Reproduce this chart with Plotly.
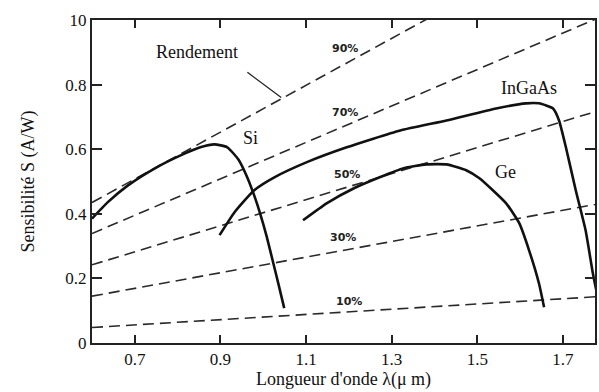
import plotly.graph_objects as go

# Efficiency (rendement) lines: read endpoints at lambda = 0.6 and 1.8 µm
eff_labels = ["10%", "30%", "50%", "70%", "90%"]
eff_x = [0.6, 1.8]
eff_10 = [0.048, 0.145]
eff_30 = [0.145, 0.435]
eff_50 = [0.242, 0.726]
eff_70 = [0.339, 1.016]
eff_90 = [0.435, 1.306]
eff_label_x = [1.20, 1.187, 1.195, 1.19, 1.19]
eff_label_y = [0.13, 0.327, 0.522, 0.714, 0.913]

# Detector curves
si_x = [0.600, 0.637, 0.684, 0.747, 0.807, 0.853, 0.886, 0.916, 0.942, 0.962, 0.978, 0.993, 1.008, 1.023, 1.036, 1.049]
si_y = [0.385, 0.436, 0.488, 0.541, 0.581, 0.606, 0.615, 0.606, 0.568, 0.515, 0.46, 0.40, 0.33, 0.25, 0.18, 0.108]

ingaas_x = [0.898, 0.933, 0.979, 1.026, 1.102, 1.195, 1.32, 1.428, 1.544, 1.614, 1.644, 1.677, 1.691, 1.707, 1.73, 1.753, 1.77, 1.78]
ingaas_y = [0.334, 0.405, 0.473, 0.513, 0.56, 0.606, 0.658, 0.689, 0.726, 0.742, 0.742, 0.726, 0.689, 0.606, 0.473, 0.349, 0.216, 0.15]

ge_x = [1.093, 1.149, 1.212, 1.272, 1.328, 1.381, 1.428, 1.474, 1.505, 1.567, 1.598, 1.621, 1.644, 1.656]
ge_y = [0.38, 0.433, 0.479, 0.513, 0.541, 0.553, 0.553, 0.535, 0.51, 0.433, 0.371, 0.287, 0.185, 0.111]

x_ticks = [0.7, 0.9, 1.1, 1.3, 1.5, 1.7]
x_ticktext = ["0.7", "0.9", "1.1", "1.3", "1.5", "1.7"]
y_ticks = [0, 0.2, 0.4, 0.6, 0.8, 1.0]
y_ticktext = ["0", "0.2", "0.4", "0.6", "0.8", "10"]

serif = "Liberation Serif"

fig = go.Figure()
for ys in [eff_10, eff_30, eff_50, eff_70, eff_90]:
    fig.add_trace(go.Scatter(x=eff_x, y=ys, mode="lines",
                             line=dict(color="#2a2a2a", width=1.6, dash="11px,6px"),
                             showlegend=False, hoverinfo="skip"))
for xs, ys in [(si_x, si_y), (ingaas_x, ingaas_y), (ge_x, ge_y)]:
    fig.add_trace(go.Scatter(x=xs, y=ys, mode="lines",
                             line=dict(color="#111111", width=2.6, shape="spline", smoothing=0.5),
                             showlegend=False, hoverinfo="skip"))

# efficiency labels
for t, lx, ly in zip(eff_labels, eff_label_x, eff_label_y):
    fig.add_annotation(x=lx, y=ly, text="<b>" + t + "</b>", showarrow=False,
                       font=dict(family="DejaVu Sans", size=11, color="#222"),
                       xanchor="center", yanchor="middle")

curve_labels = ["Si", "InGaAs", "Ge", "Rendement"]
curve_label_x = [0.97, 1.621, 1.565, 0.846]
curve_label_y = [0.634, 0.79, 0.529, 0.90]
for t, lx, ly in zip(curve_labels, curve_label_x, curve_label_y):
    fig.add_annotation(x=lx, y=ly, text=t, showarrow=False,
                       font=dict(family=serif, size=18, color="#111"),
                       xanchor="center", yanchor="middle")

# leader line from "Rendement" to the 90% line
fig.add_shape(type="line", x0=0.963, y0=0.838, x1=1.042, y1=0.760,
              line=dict(color="#222", width=1.3))

fig.update_layout(
    width=599, height=392,
    margin=dict(l=92, r=2, t=20, b=49),
    paper_bgcolor="white", plot_bgcolor="white",
    font=dict(family=serif, color="#111"),
)
fig.update_xaxes(range=[0.6, 1.775], tickvals=x_ticks, ticktext=x_ticktext,
                 ticks="inside", ticklen=8, tickwidth=1.5, tickcolor="#222",
                 showline=True, linecolor="#222", linewidth=2, mirror="ticks",
                 showgrid=False, zeroline=False,
                 tickfont=dict(family=serif, size=17, color="#111"),
                 title=dict(text="Longueur d'onde λ(μ m)", font=dict(family=serif, size=18, color="#111"), standoff=2))
fig.update_yaxes(range=[0, 1.0], tickvals=y_ticks, ticktext=y_ticktext,
                 ticks="inside", ticklen=10, tickwidth=1.5, tickcolor="#222",
                 showline=True, linecolor="#222", linewidth=2, mirror="ticks",
                 showgrid=False, zeroline=False,
                 tickfont=dict(family=serif, size=17, color="#111"),
                 title=dict(text="Sensibilité S (A/W)", font=dict(family=serif, size=18, color="#111"), standoff=26))

fig.write_html("out.html")
